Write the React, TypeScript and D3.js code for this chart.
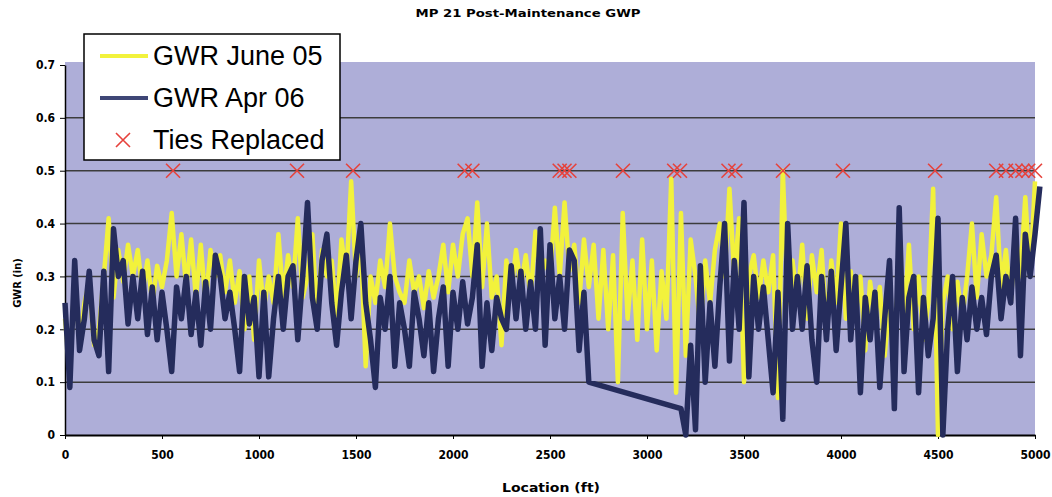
import React, { useRef, useEffect } from 'react';
import * as d3 from 'd3';

// location step of the GWR samples (ft)
const STEP = 25;

// GWR June 05 (in), one value every 25 ft from 0 to 5000
const juneValues: number[] = [
  0.22, 0.12, 0.30, 0.17, 0.25, 0.29, 0.17, 0.20, 0.30, 0.41,
  0.26, 0.35, 0.29, 0.36, 0.30, 0.35, 0.27, 0.33, 0.25, 0.32,
  0.28, 0.33, 0.42, 0.30, 0.38, 0.28, 0.37, 0.26, 0.36, 0.25,
  0.35, 0.30, 0.34, 0.27, 0.33, 0.25, 0.31, 0.20, 0.30, 0.18,
  0.33, 0.24, 0.30, 0.25, 0.38, 0.26, 0.34, 0.28, 0.41, 0.26,
  0.30, 0.38, 0.22, 0.35, 0.30, 0.33, 0.22, 0.37, 0.30, 0.48,
  0.30, 0.36, 0.13, 0.30, 0.25, 0.33, 0.28, 0.40, 0.30, 0.27,
  0.25, 0.33, 0.27, 0.30, 0.24, 0.31, 0.26, 0.30, 0.36, 0.27,
  0.36, 0.30, 0.38, 0.41, 0.30, 0.44, 0.28, 0.40, 0.26, 0.30,
  0.17, 0.33, 0.27, 0.35, 0.28, 0.34, 0.26, 0.385, 0.30, 0.33,
  0.30, 0.43, 0.30, 0.44, 0.31, 0.36, 0.25, 0.37, 0.28, 0.36,
  0.22, 0.35, 0.20, 0.34, 0.10, 0.42, 0.22, 0.33, 0.18, 0.37,
  0.20, 0.33, 0.16, 0.31, 0.22, 0.485, 0.08, 0.42, 0.15, 0.37,
  0.30, 0.20, 0.33, 0.25, 0.35, 0.40, 0.30, 0.466, 0.30, 0.41,
  0.10, 0.30, 0.34, 0.26, 0.33, 0.27, 0.34, 0.07, 0.50, 0.25,
  0.33, 0.25, 0.36, 0.22, 0.34, 0.27, 0.35, 0.20, 0.33, 0.25,
  0.40, 0.22, 0.31, 0.22, 0.30, 0.16, 0.29, 0.22, 0.28, 0.15,
  0.25, 0.20, 0.30, 0.22, 0.36, 0.20, 0.30, 0.18, 0.25, 0.466,
  0.00, 0.25, 0.30, 0.20, 0.29, 0.22, 0.30, 0.40, 0.26, 0.38,
  0.30, 0.34, 0.45, 0.28, 0.35, 0.25, 0.38, 0.30, 0.45, 0.30,
  0.48,
];

// GWR Apr 06 (in), every 25 ft from 0 to 5025; null = not measured
const aprValues: (number | null)[] = [
  0.25, 0.09, 0.33, 0.16, 0.22, 0.31, 0.18, 0.15, 0.31, 0.12,
  0.39, 0.30, 0.33, 0.21, 0.30, 0.22, 0.31, 0.19, 0.28, 0.18,
  0.27, 0.20, 0.12, 0.28, 0.22, 0.30, 0.19, 0.27, 0.17, 0.29,
  0.20, 0.34, 0.30, 0.22, 0.27, 0.20, 0.12, 0.30, 0.21, 0.26,
  0.11, 0.27, 0.11, 0.22, 0.30, 0.20, 0.30, 0.32, 0.18, 0.30,
  0.44, 0.26, 0.20, 0.33, 0.38, 0.25, 0.17, 0.27, 0.34, 0.22,
  0.33, 0.40, 0.25, 0.18, 0.09, 0.26, 0.20, 0.30, 0.13, 0.25,
  0.20, 0.13, 0.27, 0.22, 0.15, 0.25, 0.12, 0.22, 0.28, 0.13,
  0.27, 0.20, 0.29, 0.21, 0.26, 0.36, 0.13, 0.25, 0.16, 0.26,
  0.22, 0.20, 0.32, 0.22, 0.31, 0.20, 0.29, 0.20, 0.39, 0.17,
  0.36, 0.22, 0.30, 0.20, 0.35, 0.33, 0.16, 0.27, 0.10, null,
  null, null, null, null, null, null, null, null, null, null,
  null, null, null, null, null, null, null, 0.05, 0.00, 0.17,
  0.01, 0.32, 0.10, 0.25, 0.13, 0.28, 0.40, 0.14, 0.33, 0.20,
  0.44, 0.11, 0.30, 0.20, 0.28, 0.18, 0.08, 0.27, 0.03, 0.40,
  0.20, 0.30, 0.20, 0.32, 0.18, 0.10, 0.30, 0.18, 0.31, 0.16,
  0.28, 0.40, 0.18, 0.30, 0.08, 0.26, 0.18, 0.27, 0.09, 0.22,
  0.33, 0.05, 0.43, 0.12, 0.26, 0.30, 0.08, 0.26, 0.15, 0.22,
  0.41, 0.00, 0.20, 0.30, 0.12, 0.26, 0.18, 0.28, 0.20, 0.26,
  0.19, 0.30, 0.34, 0.22, 0.30, 0.25, 0.41, 0.15, 0.38, 0.30,
  0.38, 0.47,
];

// locations (ft) where ties were replaced, plotted at 0.5
const tieLocations = [
  557, 1196, 1485, 2060, 2100, 2550, 2575, 2600, 2876, 3140, 3170,
  3420, 3455, 3701, 4010, 4485, 4800, 4850, 4900, 4935, 4965, 5000,
];
const TIE_LEVEL = 0.5;

const xTicks = [0, 500, 1000, 1500, 2000, 2500, 3000, 3500, 4000, 4500, 5000];
const yTicks = [0, 0.1, 0.2, 0.3, 0.4, 0.5, 0.6, 0.7];

const YELLOW = '#f2f23c';
const NAVY = '#252c5c';
const narrow = '"Liberation Sans Narrow", "DejaVu Sans Condensed", Arial, sans-serif';

const App: React.FC = () => {
  const svgRef = useRef<SVGSVGElement>(null);
  const width = 1052;
  const height = 497;

  useEffect(() => {
    if (!svgRef.current) return;
    const root = d3.select(svgRef.current);
    root.selectAll('*').remove();

    const left = 65, right = 1035, top = 65, bottom = 435;

    const x = d3.scaleLinear().domain([0, 5000]).range([left, right]);
    const y = d3.scaleLinear().domain([0, 0.7]).range([bottom, top]);

    // plot background
    root.append('rect')
      .attr('x', left).attr('y', top - 3)
      .attr('width', right - left).attr('height', bottom - top + 3)
      .attr('fill', '#aeaed8');

    // grid lines
    root.append('g')
      .selectAll('line')
      .data(yTicks.filter((d) => d > 0 && d < 0.7))
      .enter()
      .append('line')
      .attr('x1', left).attr('x2', right)
      .attr('y1', (d) => y(d)).attr('y2', (d) => y(d))
      .attr('stroke', '#3c3c3c')
      .attr('stroke-width', 1.5);

    // axes
    const yAxis = root.append('g')
      .attr('transform', `translate(${left},0)`)
      .call(d3.axisLeft(y).tickValues(yTicks).tickSize(5).tickSizeOuter(0).tickPadding(5)
        .tickFormat((d) => (+d === 0 ? '0' : (+d).toFixed(1))));
    yAxis.selectAll('text')
      .style('font-family', narrow).style('font-size', '12px').style('font-weight', 'bold')
      .attr('fill', '#000');
    yAxis.select('.domain').attr('stroke', '#000').attr('stroke-width', 1.5);

    const xAxis = root.append('g')
      .attr('transform', `translate(0,${bottom})`)
      .call(d3.axisBottom(x).tickValues(xTicks).tickSize(4).tickSizeOuter(0).tickPadding(11)
        .tickFormat((d) => String(d)));
    xAxis.selectAll('text')
      .style('font-family', narrow).style('font-size', '12px').style('font-weight', 'bold')
      .attr('fill', '#000');
    xAxis.select('.domain').attr('stroke', '#000').attr('stroke-width', 2);

    // series
    const june = juneValues.map((v, i) => ({ loc: i * STEP, v }));
    const apr = aprValues
      .map((v, i) => ({ loc: i * STEP, v }))
      .filter((d) => d.v !== null) as { loc: number; v: number }[];

    const line = d3.line<{ loc: number; v: number }>()
      .x((d) => x(d.loc))
      .y((d) => y(d.v));

    root.append('path')
      .datum(june)
      .attr('d', line)
      .attr('fill', 'none')
      .attr('stroke', YELLOW)
      .attr('stroke-width', 4.5)
      .attr('stroke-linejoin', 'round');

    root.append('path')
      .datum(apr)
      .attr('d', line)
      .attr('fill', 'none')
      .attr('stroke', NAVY)
      .attr('stroke-width', 5.5)
      .attr('stroke-linejoin', 'round');

    // ties replaced markers
    const cross = (g: d3.Selection<SVGGElement, unknown, null, undefined>, cx: number, cy: number, s: number) => {
      g.append('path')
        .attr('d', `M${cx - s},${cy - s}L${cx + s},${cy + s}M${cx - s},${cy + s}L${cx + s},${cy - s}`)
        .attr('stroke', '#e6423c')
        .attr('stroke-width', 1.6)
        .attr('fill', 'none');
    };
    const ties = root.append('g');
    tieLocations.forEach((loc) => cross(ties, x(loc), y(TIE_LEVEL), 7));

    // titles
    root.append('text')
      .attr('x', 528).attr('y', 17)
      .attr('text-anchor', 'middle')
      .attr('textLength', 225).attr('lengthAdjust', 'spacingAndGlyphs')
      .style('font-family', narrow).style('font-size', '11px').style('font-weight', 'bold')
      .text('MP 21 Post-Maintenance GWP');

    root.append('text')
      .attr('transform', 'translate(21,283) rotate(-90)')
      .attr('text-anchor', 'middle')
      .style('font-family', narrow).style('font-size', '11px').style('font-weight', 'bold')
      .text('GWR (in)');

    root.append('text')
      .attr('x', 551).attr('y', 492)
      .attr('text-anchor', 'middle')
      .attr('textLength', 98).attr('lengthAdjust', 'spacingAndGlyphs')
      .style('font-family', narrow).style('font-size', '12px').style('font-weight', 'bold')
      .text('Location (ft)');

    // legend
    const legend = root.append('g');
    legend.append('rect')
      .attr('x', 84).attr('y', 34).attr('width', 256).attr('height', 126)
      .attr('fill', '#fff').attr('stroke', '#000').attr('stroke-width', 1.5);
    const items = [
      { label: 'GWR June 05', y: 56, kind: 'june' },
      { label: 'GWR Apr 06', y: 98, kind: 'apr' },
      { label: 'Ties Replaced', y: 140, kind: 'ties' },
    ];
    items.forEach((it) => {
      if (it.kind === 'ties') {
        cross(legend, 123, it.y, 7);
      } else {
        legend.append('line')
          .attr('x1', 100).attr('x2', 148)
          .attr('y1', it.y).attr('y2', it.y)
          .attr('stroke', it.kind === 'june' ? YELLOW : '#3e4676')
          .attr('stroke-width', 4);
      }
      legend.append('text')
        .attr('x', 153).attr('y', it.y + 9)
        .style('font-family', '"Liberation Sans", Arial, sans-serif')
        .style('font-size', '27px')
        .text(it.label);
    });
  }, []);

  return (
    <svg
      ref={svgRef}
      width={width}
      height={height}
      style={{ position: 'absolute', left: 0, top: 0, background: '#fff' }}
    />
  );
};

export default App;
